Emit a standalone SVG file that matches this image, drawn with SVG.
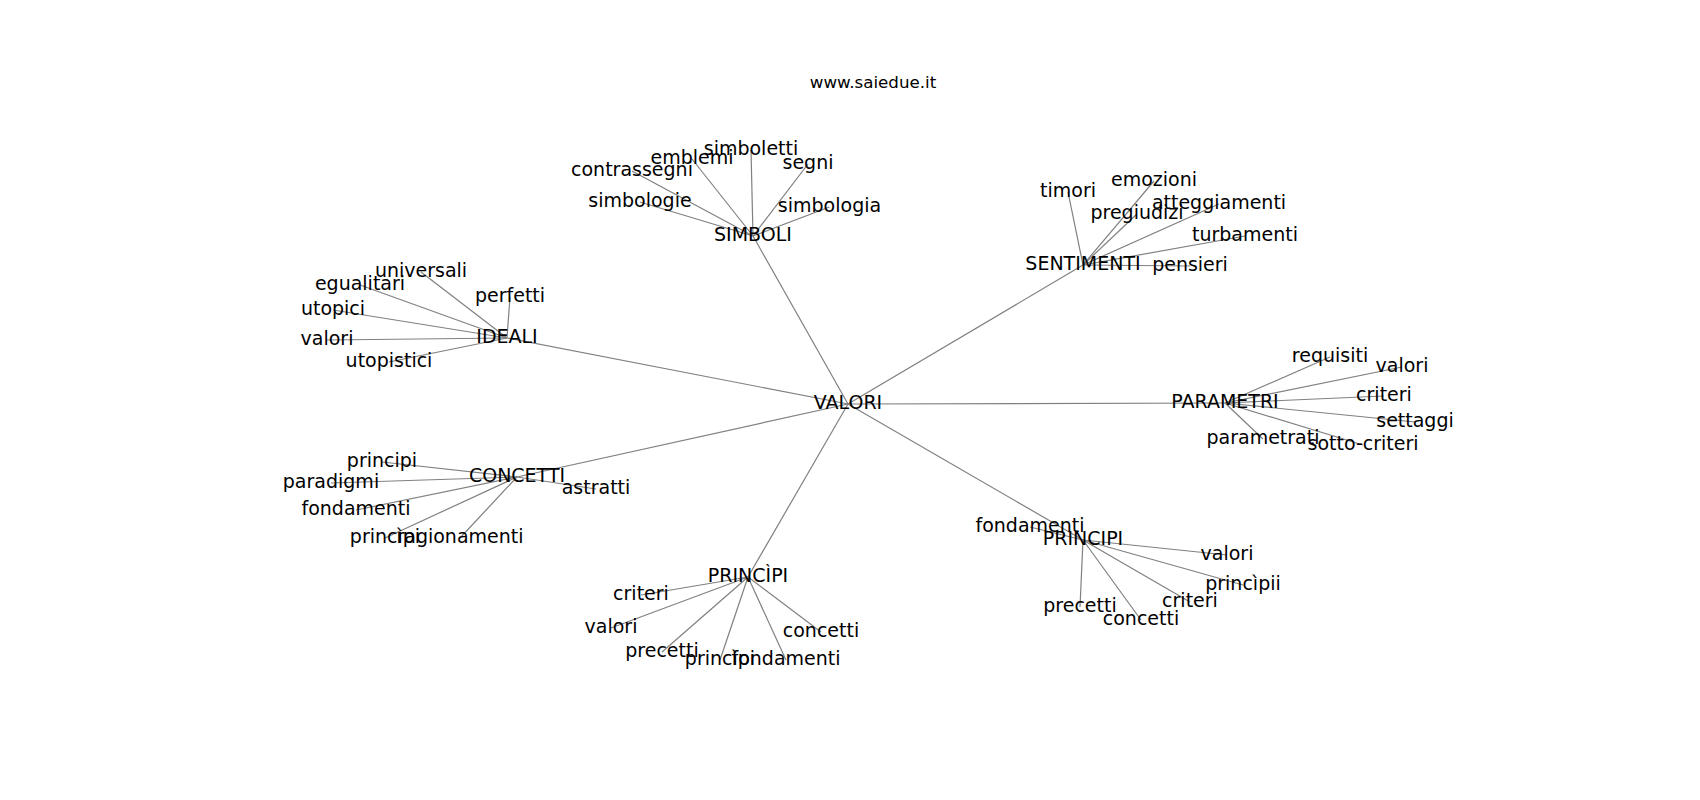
<svg xmlns="http://www.w3.org/2000/svg" width="1700" height="800" viewBox="0 0 1700 800">
<style>
text{font-family:"DejaVu Sans","Liberation Sans",sans-serif;font-size:19px;fill:#000;text-anchor:middle}
.title{font-size:16.7px}
#edges line{stroke:#808080;stroke-width:1.2}
</style>
<rect width="1700" height="800" fill="#fff"/>
<text class="title" x="873" y="88">www.saiedue.it</text>
<g id="edges">
<line x1="848" y1="404" x2="753" y2="236"/>
<line x1="848" y1="404" x2="1083" y2="265"/>
<line x1="848" y1="404" x2="507" y2="338"/>
<line x1="848" y1="404" x2="1225" y2="403"/>
<line x1="848" y1="404" x2="517" y2="477"/>
<line x1="848" y1="404" x2="748" y2="577"/>
<line x1="848" y1="404" x2="1083" y2="540"/>
<line x1="753" y1="236" x2="751" y2="150"/>
<line x1="753" y1="236" x2="692" y2="159"/>
<line x1="753" y1="236" x2="808" y2="164"/>
<line x1="753" y1="236" x2="632" y2="171"/>
<line x1="753" y1="236" x2="640" y2="202"/>
<line x1="753" y1="236" x2="829.5" y2="207"/>
<line x1="1083" y1="265" x2="1068" y2="192"/>
<line x1="1083" y1="265" x2="1154" y2="181"/>
<line x1="1083" y1="265" x2="1137" y2="214"/>
<line x1="1083" y1="265" x2="1219" y2="204"/>
<line x1="1083" y1="265" x2="1245" y2="236"/>
<line x1="1083" y1="265" x2="1190" y2="266"/>
<line x1="507" y1="338" x2="421" y2="272"/>
<line x1="507" y1="338" x2="360" y2="285"/>
<line x1="507" y1="338" x2="510" y2="297"/>
<line x1="507" y1="338" x2="333" y2="310"/>
<line x1="507" y1="338" x2="327" y2="340"/>
<line x1="507" y1="338" x2="389" y2="362"/>
<line x1="1225" y1="403" x2="1330" y2="357"/>
<line x1="1225" y1="403" x2="1402" y2="367"/>
<line x1="1225" y1="403" x2="1384" y2="396"/>
<line x1="1225" y1="403" x2="1415" y2="422"/>
<line x1="1225" y1="403" x2="1263" y2="439"/>
<line x1="1225" y1="403" x2="1363" y2="445"/>
<line x1="517" y1="477" x2="382" y2="462"/>
<line x1="517" y1="477" x2="331" y2="483"/>
<line x1="517" y1="477" x2="356" y2="510"/>
<line x1="517" y1="477" x2="596" y2="489"/>
<line x1="517" y1="477" x2="385" y2="538"/>
<line x1="517" y1="477" x2="460" y2="538"/>
<line x1="748" y1="577" x2="641" y2="595"/>
<line x1="748" y1="577" x2="611" y2="628"/>
<line x1="748" y1="577" x2="662" y2="652"/>
<line x1="748" y1="577" x2="821" y2="632"/>
<line x1="748" y1="577" x2="720" y2="660"/>
<line x1="748" y1="577" x2="786" y2="660"/>
<line x1="1083" y1="540" x2="1030" y2="527"/>
<line x1="1083" y1="540" x2="1227" y2="555"/>
<line x1="1083" y1="540" x2="1243" y2="585"/>
<line x1="1083" y1="540" x2="1190" y2="602"/>
<line x1="1083" y1="540" x2="1080" y2="607"/>
<line x1="1083" y1="540" x2="1141" y2="620"/>
</g>
<g id="n-valori"><text x="848" y="409">VALORI</text></g>
<g id="n-simboli"><text x="753" y="241">SIMBOLI</text></g>
<g id="n-simboletti"><text x="751" y="155">simboletti</text></g>
<g id="n-emblemi"><text x="692" y="164">emblemi</text></g>
<g id="n-segni"><text x="808" y="169">segni</text></g>
<g id="n-contrassegni"><text x="632" y="176">contrassegni</text></g>
<g id="n-simbologie"><text x="640" y="207">simbologie</text></g>
<g id="n-simbologia"><text x="829.5" y="212">simbologia</text></g>
<g id="n-sentimenti"><text x="1083" y="270">SENTIMENTI</text></g>
<g id="n-timori"><text x="1068" y="197">timori</text></g>
<g id="n-emozioni"><text x="1154" y="186">emozioni</text></g>
<g id="n-pregiudizi"><text x="1137" y="219">pregiudizi</text></g>
<g id="n-atteggiamenti"><text x="1219" y="209">atteggiamenti</text></g>
<g id="n-turbamenti"><text x="1245" y="241">turbamenti</text></g>
<g id="n-pensieri"><text x="1190" y="271">pensieri</text></g>
<g id="n-ideali"><text x="507" y="343">IDEALI</text></g>
<g id="n-universali"><text x="421" y="277">universali</text></g>
<g id="n-egualitari"><text x="360" y="290">egualitari</text></g>
<g id="n-perfetti"><text x="510" y="302">perfetti</text></g>
<g id="n-utopici"><text x="333" y="315">utopici</text></g>
<g id="n-valori-ideali"><text x="327" y="345">valori</text></g>
<g id="n-utopistici"><text x="389" y="367">utopistici</text></g>
<g id="n-parametri"><text x="1225" y="408">PARAMETRI</text></g>
<g id="n-requisiti"><text x="1330" y="362">requisiti</text></g>
<g id="n-valori-parametri"><text x="1402" y="372">valori</text></g>
<g id="n-criteri-parametri"><text x="1384" y="401">criteri</text></g>
<g id="n-settaggi"><text x="1415" y="427">settaggi</text></g>
<g id="n-parametrati"><text x="1263" y="444">parametrati</text></g>
<g id="n-sotto-criteri"><text x="1363" y="450">sotto-criteri</text></g>
<g id="n-concetti"><text x="517" y="482">CONCETTI</text></g>
<g id="n-principi-concetti"><text x="382" y="467">principi</text></g>
<g id="n-paradigmi"><text x="331" y="488">paradigmi</text></g>
<g id="n-fondamenti-concetti"><text x="356" y="515">fondamenti</text></g>
<g id="n-astratti"><text x="596" y="494">astratti</text></g>
<g id="n-princìpi-concetti"><text x="385" y="543">princìpi</text></g>
<g id="n-ragionamenti"><text x="460" y="543">ragionamenti</text></g>
<g id="n-princìpi-hub"><text x="748" y="582">PRINCÌPI</text></g>
<g id="n-criteri-princìpi"><text x="641" y="600">criteri</text></g>
<g id="n-valori-princìpi"><text x="611" y="633">valori</text></g>
<g id="n-precetti-princìpi"><text x="662" y="657">precetti</text></g>
<g id="n-concetti-princìpi"><text x="821" y="637">concetti</text></g>
<g id="n-princìpi-princìpi"><text x="720" y="665">princìpi</text></g>
<g id="n-fondamenti-princìpi"><text x="786" y="665">fondamenti</text></g>
<g id="n-principi-hub"><text x="1083" y="545">PRINCIPI</text></g>
<g id="n-fondamenti-principi"><text x="1030" y="532">fondamenti</text></g>
<g id="n-valori-principi"><text x="1227" y="560">valori</text></g>
<g id="n-princìpii"><text x="1243" y="590">princìpii</text></g>
<g id="n-criteri-principi"><text x="1190" y="607">criteri</text></g>
<g id="n-precetti-principi"><text x="1080" y="612">precetti</text></g>
<g id="n-concetti-principi"><text x="1141" y="625">concetti</text></g>
</svg>
